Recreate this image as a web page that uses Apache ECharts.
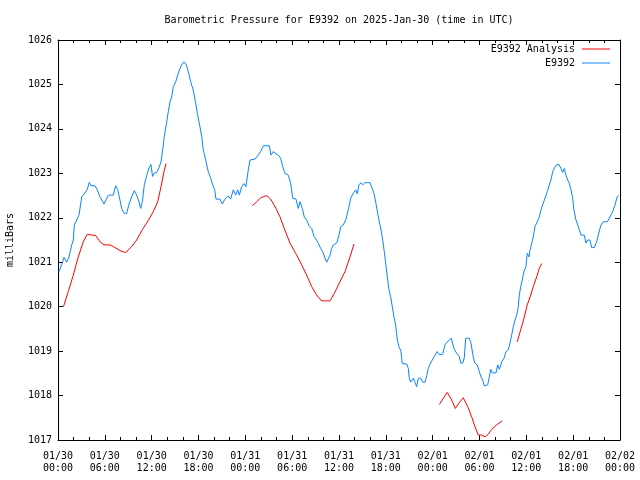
<!DOCTYPE html>
<html>
<head>
<meta charset="utf-8">
<script src="https://cdn.jsdelivr.net/npm/echarts@6/dist/echarts.min.js"></script>
<style>
html,body{margin:0;padding:0;background:#fff;}
#chart{width:640px;height:480px;}
</style>
</head>
<body>
<div id="chart"></div>
<script>
// Hours after 2025-01-30 00:00 UTC
const xTickLabels = ['01/30\n00:00','01/30\n06:00','01/30\n12:00','01/30\n18:00','01/31\n00:00','01/31\n06:00','01/31\n12:00','01/31\n18:00','02/01\n00:00','02/01\n06:00','02/01\n12:00','02/01\n18:00','02/02\n00:00'];
const yTickLabels = ['1017','1018','1019','1020','1021','1022','1023','1024','1025','1026'];

const blueHours = [0.1,0.47,0.77,1.11,1.41,1.76,1.96,2.09,2.40,2.69,2.91,3.04,3.46,3.75,4.01,4.23,4.74,5.03,5.38,5.89,6.11,6.44,7.08,7.39,7.65,7.94,8.16,8.46,8.80,9.10,9.44,9.77,10.08,10.38,10.59,10.80,11.06,11.36,11.66,11.91,12.11,12.30,12.64,12.94,13.20,13.41,13.62,13.93,14.13,14.35,14.57,14.77,15.08,15.33,15.63,15.92,16.14,16.40,16.69,17.0,17.33,17.64,17.85,18.10,18.41,18.61,18.92,19.25,19.56,19.82,20.07,20.24,20.75,21.05,21.39,21.82,22.12,22.46,22.77,23.02,23.23,23.53,23.83,24.08,24.38,24.60,25.24,25.66,25.97,26.30,27.07,27.29,27.58,27.93,28.22,28.53,28.79,29.08,29.50,29.81,30.07,30.49,30.78,31.00,31.30,31.55,31.86,32.16,32.50,32.80,33.05,33.35,33.65,33.91,34.21,34.42,34.63,34.85,35.06,35.27,35.70,36.0,36.22,36.55,36.90,37.19,37.50,37.83,38.14,38.34,38.56,38.82,39.03,39.33,39.97,40.26,40.48,40.74,40.96,41.16,41.38,41.60,41.80,41.98,42.19,42.40,42.62,42.83,43.04,43.26,43.47,43.69,43.94,44.11,44.67,44.88,45.0,45.18,45.52,45.73,45.95,46.16,46.47,46.72,47.02,47.24,47.44,47.66,48.08,48.30,48.59,48.85,49.28,49.58,49.87,50.13,50.39,50.54,50.77,51.08,51.41,51.59,51.85,52.05,52.23,52.69,52.91,53.20,53.42,53.72,53.97,54.19,54.41,54.61,54.83,55.05,55.22,55.44,55.64,56.11,56.33,56.54,56.85,57.14,57.40,57.69,57.91,58.12,58.33,58.55,58.77,58.97,59.10,59.28,59.48,59.70,59.95,60.12,60.34,60.47,60.69,60.89,61.11,61.40,61.66,61.88,62.09,62.39,62.69,62.94,63.16,63.38,63.58,63.89,64.18,64.44,64.66,64.86,65.08,65.30,65.50,65.72,65.94,66.10,66.36,66.58,66.78,67.0,67.42,67.64,67.86,68.15,68.37,68.70,69.01,69.22,69.53,69.86,70.38,70.72,71.07,71.36,71.65,71.87];
const bluePressure = [1020.78,1020.94,1021.11,1021.0,1021.12,1021.39,1021.5,1021.84,1021.95,1022.06,1022.1,1022.47,1022.56,1022.64,1022.8,1022.72,1022.72,1022.63,1022.47,1022.31,1022.31,1022.51,1022.51,1022.72,1022.64,1022.4,1022.21,1022.1,1022.1,1022.31,1022.47,1022.61,1022.51,1022.36,1022.21,1022.36,1022.74,1022.95,1023.12,1023.2,1022.93,1023.0,1023.02,1023.13,1023.26,1023.53,1023.83,1024.16,1024.39,1024.61,1024.72,1024.95,1025.06,1025.21,1025.36,1025.46,1025.51,1025.46,1025.29,1025.06,1024.87,1024.58,1024.35,1024.13,1023.83,1023.53,1023.3,1023.04,1022.89,1022.74,1022.63,1022.42,1022.42,1022.31,1022.42,1022.49,1022.42,1022.63,1022.51,1022.63,1022.51,1022.70,1022.77,1022.70,1023.08,1023.3,1023.32,1023.41,1023.49,1023.62,1023.62,1023.41,1023.49,1023.44,1023.41,1023.34,1023.15,1023.0,1022.96,1022.78,1022.44,1022.42,1022.21,1022.36,1022.21,1022.02,1021.95,1021.82,1021.76,1021.58,1021.52,1021.43,1021.31,1021.24,1021.09,1021.0,1021.0,1021.16,1021.31,1021.39,1021.43,1021.61,1021.80,1021.84,1021.97,1022.18,1022.44,1022.55,1022.63,1022.54,1022.74,1022.79,1022.74,1022.79,1022.79,1022.66,1022.55,1022.32,1022.1,1021.91,1021.73,1021.5,1021.24,1020.98,1020.67,1020.38,1020.22,1020.0,1019.77,1019.59,1019.25,1019.1,1018.99,1018.72,1018.71,1018.61,1018.39,1018.30,1018.39,1018.30,1018.2,1018.39,1018.39,1018.30,1018.30,1018.45,1018.61,1018.71,1018.84,1018.91,1018.99,1018.92,1018.93,1019.14,1019.21,1019.25,1019.29,1019.18,1019.04,1018.95,1018.88,1018.73,1018.73,1018.85,1019.29,1019.29,1019.18,1018.87,1018.73,1018.69,1018.54,1018.42,1018.35,1018.22,1018.18,1018.24,1018.39,1018.59,1018.51,1018.51,1018.69,1018.59,1018.76,1018.84,1018.99,1019.03,1019.18,1019.36,1019.55,1019.70,1019.81,1020.0,1020.26,1020.45,1020.6,1020.79,1020.9,1021.2,1021.12,1021.27,1021.43,1021.57,1021.80,1021.91,1022.02,1022.18,1022.29,1022.44,1022.59,1022.74,1022.85,1023.04,1023.11,1023.20,1023.20,1023.11,1023.02,1023.11,1022.96,1022.85,1022.78,1022.63,1022.44,1022.18,1021.95,1021.84,1021.73,1021.61,1021.61,1021.43,1021.5,1021.5,1021.33,1021.33,1021.46,1021.61,1021.82,1021.91,1021.91,1022.02,1022.14,1022.29,1022.47,1022.51];

// null marks a gap in the analysis series
const redHours = [0.70,1.32,1.96,2.60,3.24,3.75,4.32,4.83,5.38,5.89,6.66,7.30,8.07,8.67,9.44,10.08,10.80,11.57,12.21,12.77,13.20,13.58,13.84,
  19.0,
  24.89,25.46,25.97,26.74,27.25,27.93,28.44,28.99,29.72,30.58,31.22,31.86,32.50,33.14,33.78,34.85,35.40,36.04,36.77,37.41,37.92,
  43.0,
  48.85,49.36,49.87,50.44,50.90,51.41,51.92,52.49,53.0,53.42,53.85,54.28,54.70,55.13,55.56,56.20,56.92,
  58.0,
  58.84,59.28,59.70,60.12,60.56,60.89,61.33,61.66,61.97];
const redPressure = [1020.0,1020.34,1020.71,1021.12,1021.46,1021.63,1021.61,1021.6,1021.46,1021.39,1021.39,1021.33,1021.25,1021.22,1021.35,1021.5,1021.73,1021.94,1022.14,1022.36,1022.70,1023.04,1023.22,
  null,
  1022.27,1022.36,1022.45,1022.50,1022.42,1022.21,1022.02,1021.76,1021.43,1021.16,1020.94,1020.71,1020.45,1020.26,1020.13,1020.13,1020.30,1020.53,1020.79,1021.12,1021.41,
  null,
  1017.80,1017.94,1018.07,1017.90,1017.71,1017.84,1017.95,1017.75,1017.52,1017.30,1017.11,1017.11,1017.07,1017.13,1017.24,1017.34,1017.43,
  null,
  1019.21,1019.48,1019.74,1020.04,1020.26,1020.45,1020.67,1020.86,1020.97];

const FONT = 'DejaVu Sans Mono';
const blueData = blueHours.map((h, i) => [h, bluePressure[i]]);
const redData = redHours.map((h, i) => [h, redPressure[i] === null ? '-' : redPressure[i]]);

const chart = echarts.init(document.getElementById('chart'), null, {renderer: 'canvas'});
const axisLineStyle = {color: '#000', width: 1};
chart.setOption({
  animation: false,
  backgroundColor: '#fff',
  textStyle: {fontFamily: FONT, color: '#000'},
  title: {
    text: 'Barometric Pressure for E9392 on 2025-Jan-30 (time in UTC)',
    left: 339, top: 14, textAlign: 'center', padding: 0,
    textStyle: {fontFamily: FONT, fontSize: 10, fontWeight: 'normal', color: '#000', lineHeight: 12}
  },
  legend: {
    right: 30, top: 42, orient: 'vertical', align: 'right',
    itemWidth: 28, itemHeight: 1, itemGap: 0, padding: 0,
    icon: 'rect',
    textStyle: {fontFamily: FONT, fontSize: 10, color: '#000', lineHeight: 14, padding: [0, 2, 0, 0]},
    data: [
      {name: 'E9392 Analysis', icon: 'rect', itemStyle: {color: '#ff0000'}},
      {name: 'E9392', icon: 'rect', itemStyle: {color: '#0a84ff'}}
    ]
  },
  grid: {left: 58, right: 20, top: 40, bottom: 40, containLabel: false, outerBoundsMode: 'none', show: false},
  xAxis: [{
    type: 'value', min: 0, max: 72, interval: 6, position: 'bottom',
    axisLine: {show: true, onZero: false, lineStyle: axisLineStyle},
    axisTick: {show: true, inside: true, length: 5, lineStyle: axisLineStyle},
    minorTick: {show: true, splitNumber: 3, length: 3, lineStyle: axisLineStyle},
    splitLine: {show: false},
    axisLabel: {
      margin: 10, fontFamily: FONT, fontSize: 10, color: '#000', lineHeight: 12,
      formatter: v => xTickLabels[Math.round(v / 6)] || ''
    }
  }, {
    type: 'value', min: 0, max: 72, interval: 6, position: 'top',
    axisLine: {show: true, onZero: false, lineStyle: axisLineStyle},
    axisTick: {show: true, inside: true, length: 5, lineStyle: axisLineStyle},
    minorTick: {show: true, splitNumber: 3, length: 3, lineStyle: axisLineStyle},
    splitLine: {show: false},
    axisLabel: {show: false}
  }],
  yAxis: [{
    type: 'value', min: 1017, max: 1026, interval: 1, position: 'left',
    name: 'milliBars', nameLocation: 'middle', nameGap: 43, nameRotate: 90,
    nameTextStyle: {fontFamily: FONT, fontSize: 10, color: '#000'},
    axisLine: {show: true, onZero: false, lineStyle: axisLineStyle},
    axisTick: {show: true, inside: true, length: 5, lineStyle: axisLineStyle},
    splitLine: {show: false},
    axisLabel: {
      margin: 6, fontFamily: FONT, fontSize: 10, color: '#000',
      formatter: v => yTickLabels[Math.round(v - 1017)] || ''
    }
  }, {
    type: 'value', min: 1017, max: 1026, interval: 1, position: 'right',
    axisLine: {show: true, onZero: false, lineStyle: axisLineStyle},
    axisTick: {show: true, inside: true, length: 5, lineStyle: axisLineStyle},
    splitLine: {show: false},
    axisLabel: {show: false}
  }],
  series: [{
    name: 'E9392 Analysis', type: 'line', data: redData,
    xAxisIndex: 0, yAxisIndex: 0,
    symbol: 'none', showSymbol: false, connectNulls: false,
    lineStyle: {color: '#ff0000', width: 1}, itemStyle: {color: '#ff0000'}, z: 3
  }, {
    name: 'E9392', type: 'line', data: blueData,
    xAxisIndex: 0, yAxisIndex: 0,
    symbol: 'none', showSymbol: false,
    lineStyle: {color: '#0a84ff', width: 1}, itemStyle: {color: '#0a84ff'}, z: 2
  }]
});
</script>
</body>
</html>
